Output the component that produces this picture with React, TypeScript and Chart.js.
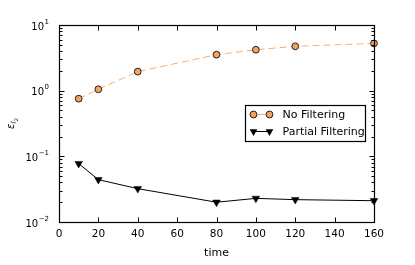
import React, { useEffect, useRef } from "react";
import { Chart, registerables } from "chart.js";

Chart.register(...registerables);

const times = [10, 20, 40, 80, 100, 120, 160];
const noFiltering = [0.755, 1.05, 1.95, 3.53, 4.2, 4.74, 5.25];
const partialFiltering = [0.0774, 0.0441, 0.0322, 0.0200, 0.0229, 0.0219, 0.0211];
const xTicks = [0, 20, 40, 60, 80, 100, 120, 140, 160];
const yExponents = [-2, -1, 0, 1];
const seriesNames = ["No Filtering", "Partial Filtering"];

const ORANGE = "#F5A25C";
const ORANGE_LINE = "#F8AD6F";
const FONT = "DejaVu Sans";

const decor = {
  id: "decor",
  afterDraw(chart: any) {
    const ctx = chart.ctx;
    const xs = chart.scales.x;
    const ys = chart.scales.y;
    const { left, right, top, bottom } = chart.chartArea;
    ctx.save();
    // frame
    ctx.strokeStyle = "#000";
    ctx.lineWidth = 1.2;
    const L = Math.round(left) + 0.5, R = Math.round(right) + 0.5;
    const T = Math.round(top) + 0.5, B = Math.round(bottom) + 0.5;
    ctx.strokeRect(L, T, R - L, B - T);
    // x ticks (inward, top & bottom)
    ctx.lineWidth = 1;
    ctx.beginPath();
    for (const t of xTicks) {
      const px = Math.round(xs.getPixelForValue(t)) + 0.5;
      ctx.moveTo(px, B); ctx.lineTo(px, B - 5);
      ctx.moveTo(px, T); ctx.lineTo(px, T + 5);
    }
    // y ticks log major/minor
    for (const e of yExponents) {
      for (let m = 1; m <= 9; m++) {
        const v = m * Math.pow(10, e);
        if (v > 10.0001) break;
        const py = Math.round(ys.getPixelForValue(v)) + 0.5;
        const len = m === 1 ? 5 : 3;
        ctx.moveTo(L, py); ctx.lineTo(L + len, py);
        ctx.moveTo(R, py); ctx.lineTo(R - len, py);
      }
    }
    ctx.stroke();
    // y tick labels 10^e
    ctx.fillStyle = "#000";
    for (const e of yExponents) {
      const py = ys.getPixelForValue(Math.pow(10, e));
      const expText = e < 0 ? "\u2212" + Math.abs(e) : String(e);
      ctx.font = `7px ${FONT}`;
      const ew = ctx.measureText(expText).width;
      const endX = left - 10;
      ctx.textAlign = "left";
      ctx.textBaseline = "alphabetic";
      ctx.fillText(expText, endX - ew, py - 1.5);
      ctx.font = `10px ${FONT}`;
      ctx.textAlign = "right";
      ctx.textBaseline = "middle";
      ctx.fillText("10", endX - ew - 0.5, py + 2);
    }
    // y title epsilon_{l_2}
    ctx.save();
    ctx.translate(14, 129);
    ctx.rotate(-Math.PI / 2);
    ctx.textAlign = "left";
    ctx.textBaseline = "alphabetic";
    ctx.font = `italic 10px ${FONT}`;
    ctx.fillText("\u03b5", 0, 0);
    const w1 = ctx.measureText("\u03b5").width;
    ctx.font = `italic 7px ${FONT}`;
    ctx.fillText("l", w1, 2);
    const w2 = ctx.measureText("l").width;
    ctx.font = `5px ${FONT}`;
    ctx.fillText("2", w1 + w2 + 0.3, 3.5);
    ctx.restore();
    // legend
    const bx = Math.round(right) - 8.5, by = Math.round(top) + 80.5;
    const bw = 120, bh = 36;
    ctx.fillStyle = "#fff";
    ctx.fillRect(bx - bw, by, bw, bh);
    ctx.strokeStyle = "#000";
    ctx.lineWidth = 1.2;
    ctx.strokeRect(bx - bw, by, bw, bh);
    const x1 = bx - bw + 8, x2 = bx - bw + 24;
    const r1 = by + 9, r2 = by + 26;
    // row1
    ctx.strokeStyle = ORANGE_LINE;
    ctx.lineWidth = 1;
    ctx.beginPath(); ctx.moveTo(x1, r1); ctx.lineTo(x2, r1); ctx.stroke();
    for (const cx of [x1, x2]) {
      ctx.beginPath();
      ctx.arc(cx, r1, 3.4, 0, Math.PI * 2);
      ctx.fillStyle = ORANGE; ctx.fill();
      ctx.strokeStyle = "#222"; ctx.lineWidth = 1; ctx.stroke();
    }
    // row2
    ctx.strokeStyle = "#000";
    ctx.beginPath(); ctx.moveTo(x1, r2); ctx.lineTo(x2, r2); ctx.stroke();
    for (const cx of [x1, x2]) {
      const r = 4.4;
      ctx.beginPath();
      ctx.moveTo(cx - r * 0.866, r2 - r * 0.5);
      ctx.lineTo(cx + r * 0.866, r2 - r * 0.5);
      ctx.lineTo(cx, r2 + r);
      ctx.closePath();
      ctx.fillStyle = "#000"; ctx.fill();
    }
    ctx.fillStyle = "#000";
    ctx.font = `11px ${FONT}`;
    ctx.textAlign = "left";
    ctx.textBaseline = "middle";
    ctx.fillText(seriesNames[0], x2 + 13, r1 + 0.5);
    ctx.fillText(seriesNames[1], x2 + 13, r2 + 0.5);
    ctx.restore();
  },
};

export default function App() {
  const ref = useRef<HTMLCanvasElement>(null);
  useEffect(() => {
    document.body.style.margin = "0";
    const chart = new Chart(ref.current as HTMLCanvasElement, {
      type: "line",
      data: {
        datasets: [
          {
            label: seriesNames[0],
            data: times.map((t, i) => ({ x: t, y: noFiltering[i] })),
            borderColor: ORANGE_LINE,
            borderWidth: 1,
            borderDash: [7, 4],
            pointBackgroundColor: ORANGE,
            pointBorderColor: "#222",
            pointBorderWidth: 1,
            pointRadius: 3.4,
            pointStyle: "circle",
            clip: false as any,
          },
          {
            label: seriesNames[1],
            data: times.map((t, i) => ({ x: t, y: partialFiltering[i] })),
            borderColor: "#000",
            borderWidth: 1,
            pointBackgroundColor: "#000",
            pointBorderColor: "#000",
            pointBorderWidth: 0.5,
            pointRadius: 4.4,
            pointStyle: "triangle",
            pointRotation: 180,
            clip: false as any,
          },
        ],
      },
      options: {
        animation: false,
        responsive: false,
        layout: { padding: { top: 25, right: 41, bottom: 1, left: 0 } },
        plugins: { legend: { display: false }, tooltip: { enabled: false } },
        scales: {
          x: {
            type: "linear",
            min: 0,
            max: 160,
            grid: { display: false, drawTicks: false },
            border: { display: false },
            ticks: {
              stepSize: 20,
              color: "#000",
              padding: 6,
              maxRotation: 0,
              font: { family: FONT, size: 10.5 },
            },
            title: {
              display: true,
              text: "time",
              color: "#000",
              font: { family: FONT, size: 11 },
              padding: { top: 4, bottom: 4 },
            },
            afterFit: (s: any) => { s.height = 42; },
          },
          y: {
            type: "logarithmic",
            min: 0.01,
            max: 10,
            grid: { display: false, drawTicks: false },
            border: { display: false },
            ticks: { display: false },
            afterFit: (s: any) => { s.width = 59; },
          },
        },
      },
      plugins: [decor],
    });
    return () => chart.destroy();
  }, []);
  return (
    <div style={{ position: "absolute", left: 0, top: 0, width: 415, height: 265, background: "#fff" }}>
      <canvas ref={ref} width={415} height={265} style={{ width: 415, height: 265 }} />
    </div>
  );
}
